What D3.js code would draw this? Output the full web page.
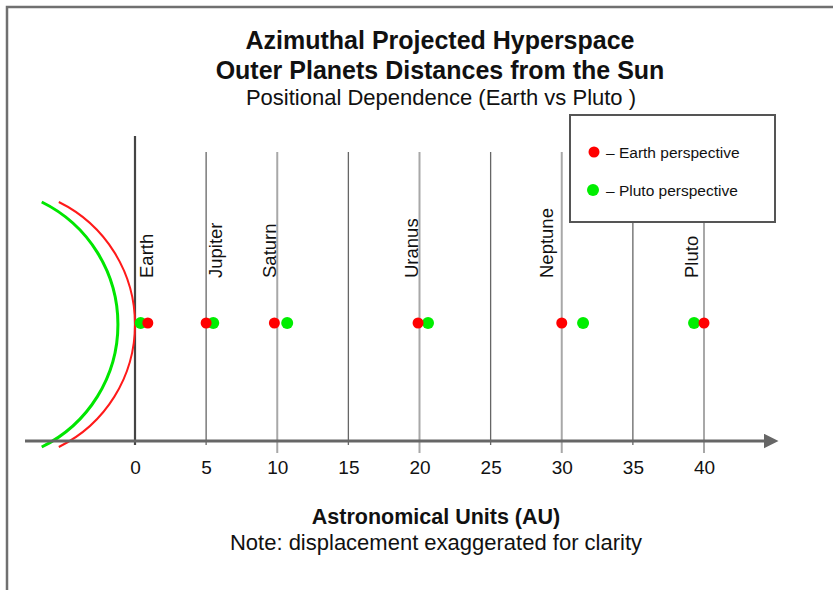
<!DOCTYPE html>
<html>
<head>
<meta charset="utf-8">
<script src="https://d3js.org/d3.v7.min.js"></script>
<style>
  body { margin: 0; background: #fff; }
  text { font-family: "Liberation Sans", Arial, sans-serif; fill: #111; }
</style>
</head>
<body>
<svg width="833" height="590"></svg>
<script>
// planets and their apparent distance (AU) as seen from each perspective
var planets = ["Earth", "Jupiter", "Saturn", "Uranus", "Neptune", "Pluto"];
var earthView = [0.9, 5.0, 9.8, 19.9, 30.0, 40.0];
var plutoView = [0.4, 5.5, 10.7, 20.6, 31.5, 39.3];
// where each planet name sits along the axis (AU)
var labelAt = [1.25, 6.1, 9.9, 19.9, 29.4, 39.6];
var ticks = [0, 5, 10, 15, 20, 25, 30, 35, 40];
// projected horizon arcs: apex (AU) for each perspective
var arcApex = [-1.2, 0];
var arcColors = ["#00e600", "#ff1a1a"];
var arcRadiusAU = 9.6;

var svg = d3.select("svg"),
    width = +svg.attr("width"),
    height = +svg.attr("height"),
    axisY = 441,
    dotY = 323,
    lineTop = 152;

var x = d3.scaleLinear().domain([0, 40]).range([135, 704]);

// frame
svg.append("rect")
    .attr("x", 7).attr("y", 7)
    .attr("width", width).attr("height", height)
    .attr("fill", "#fff")
    .attr("stroke", "#707070")
    .attr("stroke-width", 2.5);

// titles
svg.append("text").attr("x", 440).attr("y", 49)
    .attr("text-anchor", "middle").style("font-size", "25px").style("font-weight", "bold")
    .text("Azimuthal Projected Hyperspace");
svg.append("text").attr("x", 440).attr("y", 79)
    .attr("text-anchor", "middle").style("font-size", "25px").style("font-weight", "bold")
    .text("Outer Planets Distances from the Sun");
svg.append("text").attr("x", 441).attr("y", 105)
    .attr("text-anchor", "middle").style("font-size", "22px")
    .text("Positional Dependence (Earth vs Pluto )");

// vertical guide lines
svg.selectAll(".guide")
    .data(ticks)
    .enter().append("line")
    .attr("class", "guide")
    .attr("x1", function (d) { return x(d); })
    .attr("x2", function (d) { return x(d); })
    .attr("y1", function (d) { return d === 0 ? 136 : lineTop; })
    .attr("y2", function (d) { return d % 10 === 0 && d !== 0 ? axisY + 12 : axisY + 4; })
    .attr("stroke", function (d) {
        if (d === 0) return "#444";
        return d % 10 === 0 ? "#a8a8a8" : "#666";
    })
    .attr("stroke-width", function (d) {
        if (d === 0) return 2.2;
        return d % 10 === 0 ? 2 : 1.3;
    });

// horizon arcs
var rPx = x(arcRadiusAU) - x(0);
var half = Math.asin(122.5 / rPx);
arcApex.forEach(function (a, i) {
    var cx = x(a) - rPx;
    var arc = d3.arc()
        .innerRadius(rPx).outerRadius(rPx)
        .startAngle(Math.PI / 2 - half)
        .endAngle(Math.PI / 2 + half);
    svg.append("path")
        .attr("transform", "translate(" + cx + "," + (dotY + 1.5) + ")")
        .attr("d", arc())
        .attr("fill", "none")
        .attr("stroke", arcColors[i])
        .attr("stroke-width", i === 0 ? 3 : 2);
});

// x axis with arrow
svg.append("defs").append("marker")
    .attr("id", "arrow")
    .attr("viewBox", "0 0 10 10")
    .attr("refX", 1).attr("refY", 5)
    .attr("markerWidth", 5).attr("markerHeight", 5)
    .attr("markerUnits", "strokeWidth")
    .attr("orient", "auto")
    .append("path").attr("d", "M0,0L10,5L0,10Z").attr("fill", "#666");

svg.append("line")
    .attr("x1", 25).attr("x2", 765)
    .attr("y1", axisY).attr("y2", axisY)
    .attr("stroke", "#666").attr("stroke-width", 3)
    .attr("marker-end", "url(#arrow)");

var axis = svg.append("g")
    .attr("transform", "translate(0," + axisY + ")")
    .call(d3.axisBottom(x).tickValues(ticks).tickSize(0).tickPadding(20).tickFormat(d3.format("d")));
axis.select(".domain").remove();
axis.selectAll("text")
    .style("font-size", "19px")
    .style("font-family", "'Liberation Sans', Arial, sans-serif")
    .attr("fill", "#111");

// planet names
svg.selectAll(".pname")
    .data(planets)
    .enter().append("text")
    .attr("class", "pname")
    .attr("transform", function (d, i) {
        return "translate(" + x(labelAt[i]) + ",278) rotate(-90)";
    })
    .style("font-size", "18.5px")
    .text(function (d) { return d; });

// dots: green (Pluto perspective) first, red (Earth) on top
svg.selectAll(".pluto")
    .data(plutoView)
    .enter().append("circle")
    .attr("class", "pluto")
    .attr("cx", function (d) { return x(d); })
    .attr("cy", dotY)
    .attr("r", 6)
    .attr("fill", "#00ee00");

svg.selectAll(".earth")
    .data(earthView)
    .enter().append("circle")
    .attr("class", "earth")
    .attr("cx", function (d) { return x(d); })
    .attr("cy", dotY)
    .attr("r", 5.5)
    .attr("fill", "#ff0000");

// axis titles
svg.append("text").attr("x", 436).attr("y", 524)
    .attr("text-anchor", "middle").style("font-size", "21.5px").style("font-weight", "bold")
    .text("Astronomical Units (AU)");
svg.append("text").attr("x", 436).attr("y", 550)
    .attr("text-anchor", "middle").style("font-size", "22px")
    .text("Note: displacement exaggerated for clarity");

// legend
var legend = svg.append("g");
legend.append("rect")
    .attr("x", 570).attr("y", 115)
    .attr("width", 205).attr("height", 107)
    .attr("fill", "#fff")
    .attr("stroke", "#555")
    .attr("stroke-width", 2);
var legendItems = [
    {label: "\u2013 Earth perspective", color: "#ff0000", r: 5.5},
    {label: "\u2013 Pluto perspective", color: "#00ee00", r: 6}
];
legendItems.forEach(function (d, i) {
    legend.append("circle")
        .attr("cx", 594 - i).attr("cy", 152 + i * 38)
        .attr("r", d.r).attr("fill", d.color);
    legend.append("text")
        .attr("x", 606).attr("y", 158 + i * 38)
        .style("font-size", "15.5px")
        .text(d.label);
});
</script>
</body>
</html>
